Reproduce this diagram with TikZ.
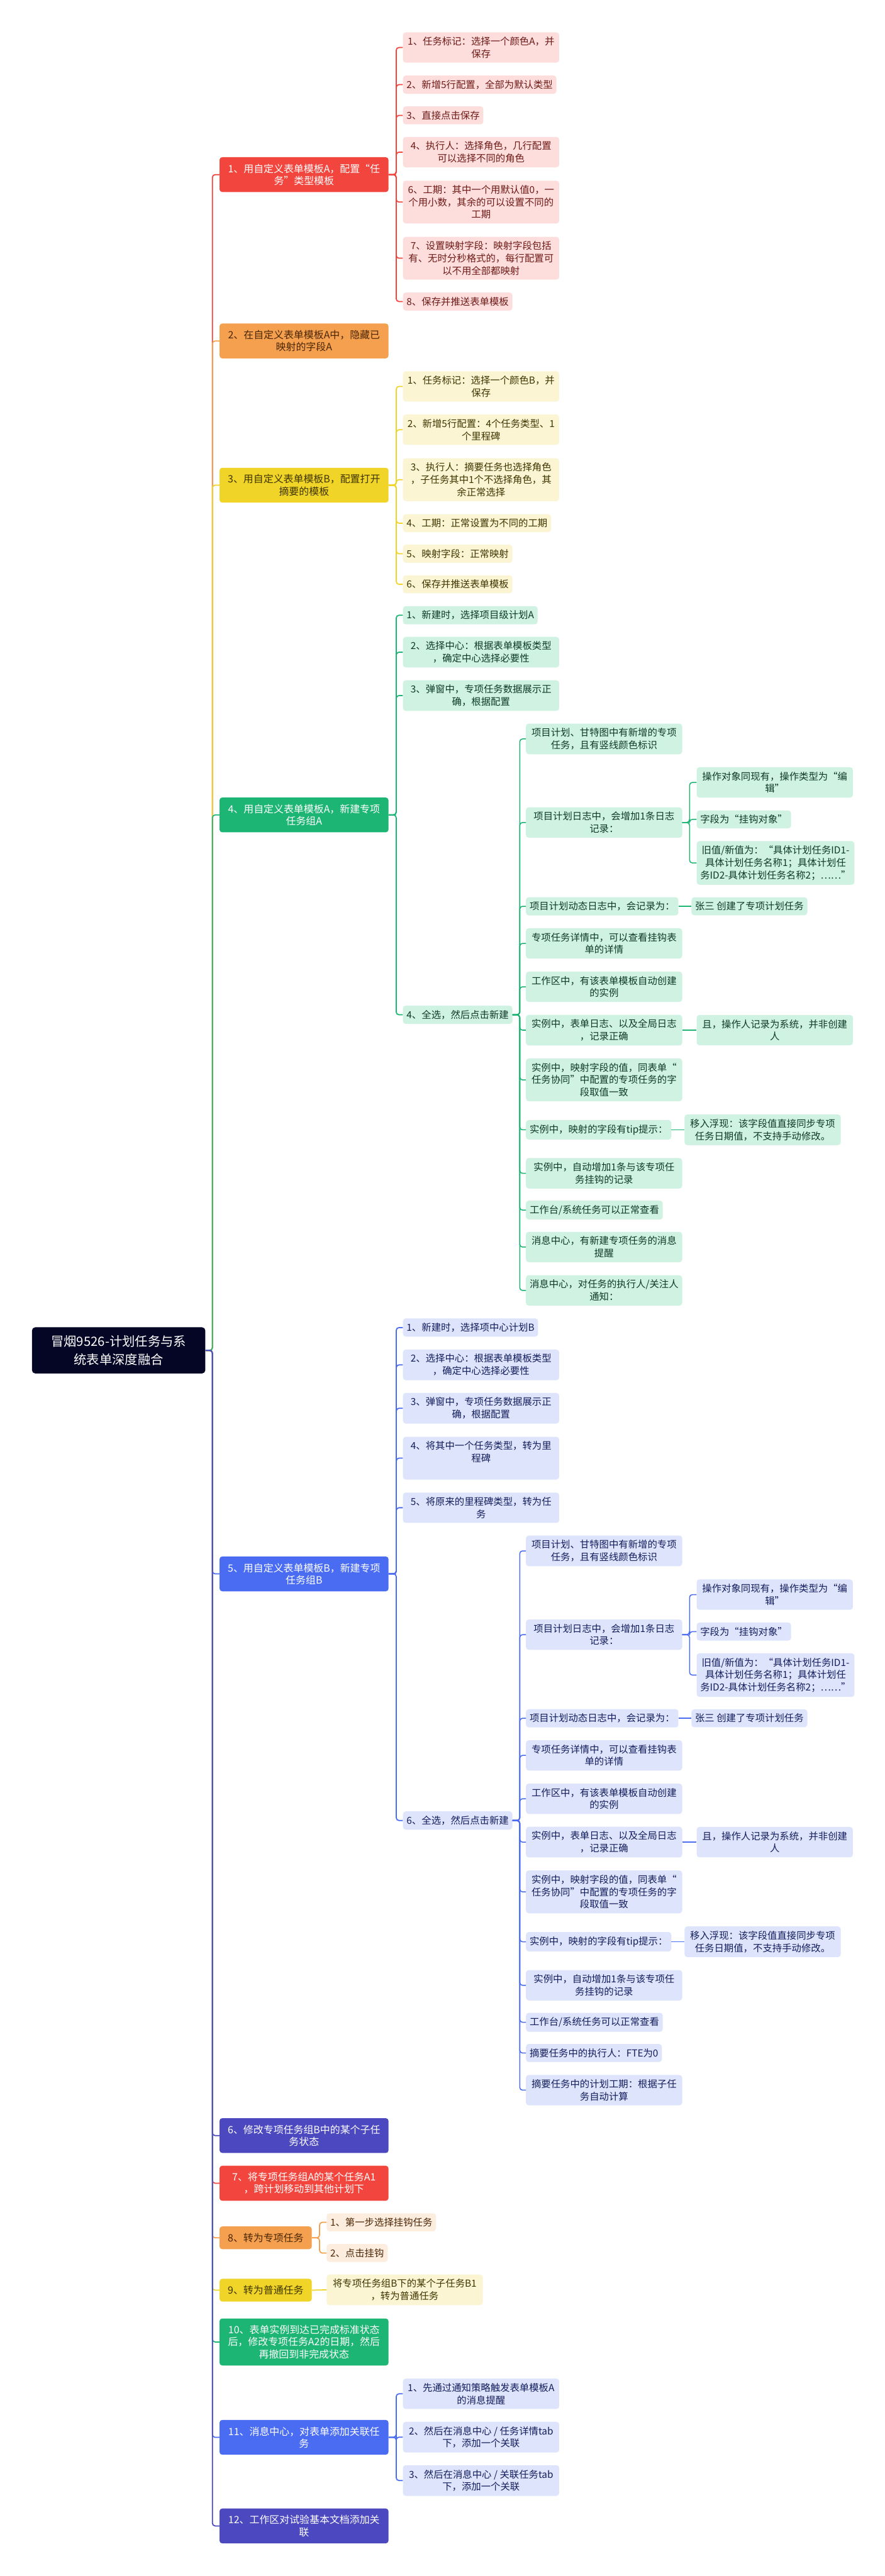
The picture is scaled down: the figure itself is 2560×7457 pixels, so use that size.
\documentclass[tikz,border=0pt]{standalone}
\usepackage{fontspec}
\setmainfont{Noto Sans CJK SC}
\usepackage{xcolor}
\definecolor{rootc}{HTML}{050526}
\definecolor{rA}{HTML}{F2453D}
\definecolor{rB}{HTML}{FDDEDD}
\definecolor{rT}{HTML}{6E1A16}
\definecolor{oA}{HTML}{F5A04E}
\definecolor{oB}{HTML}{FDEDDF}
\definecolor{oT}{HTML}{4A2606}
\definecolor{yA}{HTML}{F0D428}
\definecolor{yB}{HTML}{FBF5D4}
\definecolor{yT}{HTML}{3F3500}
\definecolor{gA}{HTML}{1DB573}
\definecolor{gB}{HTML}{CFF2E3}
\definecolor{gT}{HTML}{0E3A28}
\definecolor{bA}{HTML}{4A6CF2}
\definecolor{bB}{HTML}{DDE4FC}
\definecolor{bT}{HTML}{141E5C}
\definecolor{pA}{HTML}{4C48C0}

\begin{document}
\begin{tikzpicture}[
      x = 0.5pt, y = -0.5pt,
      font = \fontsize{14}{18}\selectfont,
      rootbox/.style={
        fill = rootc,
        text = white,
        rounded corners = 5pt,
        minimum width = 251pt,
        minimum height = 67pt,
        align = center,
        anchor = west,
        font = \fontsize{18.5}{26}\selectfont,
      },
      lone/.style={
        fill = #1A,
        text = white,
        rounded corners = 4pt,
        inner xsep = 12pt,
        inner ysep = 9.75pt,
        align = center,
        anchor = west,
        font = \fontsize{14.5}{17.5}\selectfont,
      },
      ltwo/.style={
        fill = #1B,
        text = #1T,
        rounded corners = 4pt,
        inner xsep = 5.25pt,
        inner ysep = 6.5pt,
        align = center,
        anchor = west,
      },
      onewide/.style={minimum width = 244.5pt},
      twowide/.style={minimum width = 226pt},
      link/.style={draw = #1, line width = 1.6pt, rounded corners = 4pt},
      sublink/.style={draw = #1, line width = 1.4pt, rounded corners = 4pt},
    ]
    \fill[white] (0,0) rectangle (2560,7457);
    \useasboundingbox (0,0) rectangle (2560,7457);

    % root
    \node[rootbox] (root) at (92,3909) {冒烟9526-计划任务与系\\统表单深度融合};

    % first level
    \node[lone = r, onewide] (n1) at (635,505.5) {1、用自定义表单模板A，配置“任\\务”类型模板};
    \node[lone = o, onewide, text = oT] (n2) at (635,987) {2、在自定义表单模板A中，隐藏已\\映射的字段A};
    \node[lone = y, onewide, text = yT] (n3) at (635,1404.5) {3、用自定义表单模板B，配置打开\\摘要的模板};
    \node[lone = g, onewide] (n4) at (635,2359) {4、用自定义表单模板A，新建专项\\任务组A};
    \node[lone = b, onewide] (n5) at (635,4556) {5、用自定义表单模板B，新建专项\\任务组B};
    \node[lone = p, onewide] (n6) at (635,6182) {6、修改专项任务组B中的某个子任\\务状态};
    \node[lone = r, onewide] (n7) at (635,6320) {7、将专项任务组A的某个任务A1\\，跨计划移动到其他计划下};
    \node[lone = o, text = oT] (n8) at (635,6478) {8、转为专项任务};
    \node[lone = y, text = yT] (n9) at (635,6629.5) {9、转为普通任务};
    \node[lone = g, onewide] (n10) at (635,6779.5) {10、表单实例到达已完成标准状态\\后，修改专项任务A2的日期，然后\\再撤回到非完成状态};
    \node[lone = b, onewide] (n11) at (635,7055.5) {11、消息中心，对表单添加关联任\\务};
    \node[lone = p, onewide] (n12) at (635,7312) {12、工作区对试验基本文档添加关\\联};

    \foreach \i/\c in {1/rA,2/oA,3/yA,4/gA,5/bA,6/pA,7/rA,8/oA,9/yA,10/gA,11/bA,12/pA}
      \draw[link = \c] (root.east) -- ++(10pt,0) |- (n\i.west);

    % branch 1
    \node[ltwo = r, twowide] (r1) at (1166,137.5) {1、任务标记：选择一个颜色A，并\\保存};
    \node[ltwo = r] (r2) at (1166,245) {2、新增5行配置，全部为默认类型};
    \node[ltwo = r] (r3) at (1166,334) {3、直接点击保存};
    \node[ltwo = r, twowide] (r4) at (1166,440.5) {4、执行人：选择角色，几行配置\\可以选择不同的角色};
    \node[ltwo = r, twowide] (r6) at (1166,585) {6、工期：其中一个用默认值0，一\\个用小数，其余的可以设置不同的\\工期};
    \node[ltwo = r, twowide] (r7) at (1166,747.5) {7、设置映射字段：映射字段包括\\有、无时分秒格式的，每行配置可\\以不用全部都映射};
    \node[ltwo = r] (r8) at (1166,873) {8、保存并推送表单模板};
    \foreach \c in {r1,r2,r3,r4,r6,r7,r8}
      \draw[link = rA] (n1.east) -- ++(11pt,0) |- (\c.west);

    % branch 3
    \node[ltwo = y, twowide] (y1) at (1166,1118.5) {1、任务标记：选择一个颜色B，并\\保存};
    \node[ltwo = y, twowide] (y2) at (1166,1244) {2、新增5行配置：4个任务类型、1\\个里程碑};
    \node[ltwo = y, twowide] (y3) at (1166,1388.5) {3、执行人：摘要任务也选择角色\\，子任务其中1个不选择角色，其\\余正常选择};
    \node[ltwo = y] (y4) at (1166,1514.5) {4、工期：正常设置为不同的工期};
    \node[ltwo = y] (y5) at (1166,1603) {5、映射字段：正常映射};
    \node[ltwo = y] (y6) at (1166,1691.5) {6、保存并推送表单模板};
    \foreach \c in {y1,y2,y3,y4,y5,y6}
      \draw[link = yA] (n3.east) -- ++(11pt,0) |- (\c.west);

    % branch 4
    \node[ltwo = g] (g1) at (1166,1781) {1、新建时，选择项目级计划A};
    \node[ltwo = g, twowide] (g2) at (1166,1888) {2、选择中心：根据表单模板类型\\，确定中心选择必要性};
    \node[ltwo = g, twowide] (g3) at (1166,2013.5) {3、弹窗中，专项任务数据展示正\\确，根据配置};
    \node[ltwo = g] (g4) at (1166,2937.5) {4、全选，然后点击新建};
    \foreach \c in {g1,g2,g3,g4}
      \draw[link = gA] (n4.east) -- ++(11pt,0) |- (\c.west);

    \node[ltwo = g, twowide] (ga) at (1522,2139) {项目计划、甘特图中有新增的专项\\任务，且有竖线颜色标识};
    \node[ltwo = g, twowide] (gb) at (1522,2381) {项目计划日志中，会增加1条日志\\记录：};
    \node[ltwo = g] (gc) at (1522,2623.5) {项目计划动态日志中，会记录为：};
    \node[ltwo = g, twowide] (gd) at (1522,2731) {专项任务详情中，可以查看挂钩表\\单的详情};
    \node[ltwo = g, twowide] (ge) at (1522,2856.5) {工作区中，有该表单模板自动创建\\的实例};
    \node[ltwo = g, twowide] (gf) at (1522,2982) {实例中，表单日志、以及全局日志\\，记录正确};
    \node[ltwo = g, twowide] (gg) at (1522,3126) {实例中，映射字段的值，同表单“\\任务协同”中配置的专项任务的字\\段取值一致};
    \node[ltwo = g] (gh) at (1522,3270.5) {实例中，映射的字段有tip提示：};
    \node[ltwo = g, twowide] (gi) at (1522,3396.5) {实例中，自动增加1条与该专项任\\务挂钩的记录};
    \node[ltwo = g] (gj) at (1522,3503) {工作台/系统任务可以正常查看};
    \node[ltwo = g, twowide] (gk) at (1522,3610) {消息中心，有新建专项任务的消息\\提醒};
    \node[ltwo = g, twowide] (gl) at (1522,3735.5) {消息中心，对任务的执行人/关注人\\通知：};
    \foreach \c in {ga,gb,gc,gd,ge,gf,gg,gh,gi,gj,gk,gl}
      \draw[sublink = gA] (g4.east) -- ++(10.5pt,0) |- (\c.west);

    \node[ltwo = g, twowide] (gb1) at (2016,2265) {操作对象同现有，操作类型为“编\\辑”};
    \node[ltwo = g] (gb2) at (2016,2372) {字段为“挂钩对象”};
    \node[ltwo = g, twowide] (gb3) at (2016,2498) {旧值/新值为：“具体计划任务ID1-\\具体计划任务名称1；具体计划任\\务ID2-具体计划任务名称2；……”};
    \foreach \c in {gb1,gb2,gb3}
      \draw[sublink = gA] (gb.east) -- ++(10.5pt,0) |- (\c.west);
    \node[ltwo = g] (gc1) at (2001,2623.5) {张三 创建了专项计划任务};
    \node[ltwo = g, twowide] (gf1) at (2016,2982) {且，操作人记录为系统，并非创建\\人};
    \node[ltwo = g, twowide] (gh1) at (1981,3270.5) {移入浮现：该字段值直接同步专项\\任务日期值，不支持手动修改。};
    \draw[sublink = gA] (gc.east) -- (gc1.west);
    \draw[sublink = gA] (gf.east) -- (gf1.west);
    \draw[sublink = gA] (gh.east) -- (gh1.west);

    % branch 5
    \node[ltwo = b] (b1) at (1166,3843) {1、新建时，选择项中心计划B};
    \node[ltwo = b, twowide] (b2) at (1166,3951) {2、选择中心：根据表单模板类型\\，确定中心选择必要性};
    \node[ltwo = b, twowide] (b3) at (1166,4076.5) {3、弹窗中，专项任务数据展示正\\确，根据配置};
    \node[ltwo = b, twowide] (b4) at (1166,4221) {4、将其中一个任务类型，转为里\\程碑\\\phantom{程}};
    \node[ltwo = b, twowide] (b5) at (1166,4364.5) {5、将原来的里程碑类型，转为任\\务};
    \node[ltwo = b] (b6) at (1166,5270) {6、全选，然后点击新建};
    \foreach \c in {b1,b2,b3,b4,b5,b6}
      \draw[link = bA] (n5.east) -- ++(11pt,0) |- (\c.west);

    \node[ltwo = b, twowide] (ba) at (1522,4489.5) {项目计划、甘特图中有新增的专项\\任务，且有竖线颜色标识};
    \node[ltwo = b, twowide] (bb) at (1522,4732) {项目计划日志中，会增加1条日志\\记录：};
    \node[ltwo = b] (bc) at (1522,4974) {项目计划动态日志中，会记录为：};
    \node[ltwo = b, twowide] (bd) at (1522,5081.5) {专项任务详情中，可以查看挂钩表\\单的详情};
    \node[ltwo = b, twowide] (be) at (1522,5207) {工作区中，有该表单模板自动创建\\的实例};
    \node[ltwo = b, twowide] (bf) at (1522,5332.5) {实例中，表单日志、以及全局日志\\，记录正确};
    \node[ltwo = b, twowide] (bg) at (1522,5476.5) {实例中，映射字段的值，同表单“\\任务协同”中配置的专项任务的字\\段取值一致};
    \node[ltwo = b] (bh) at (1522,5621) {实例中，映射的字段有tip提示：};
    \node[ltwo = b, twowide] (bi) at (1522,5747) {实例中，自动增加1条与该专项任\\务挂钩的记录};
    \node[ltwo = b] (bj) at (1522,5854) {工作台/系统任务可以正常查看};
    \node[ltwo = b] (bk) at (1522,5943) {摘要任务中的执行人：FTE为0};
    \node[ltwo = b, twowide] (bl) at (1522,6050.5) {摘要任务中的计划工期：根据子任\\务自动计算};
    \foreach \c in {ba,bb,bc,bd,be,bf,bg,bh,bi,bj,bk,bl}
      \draw[sublink = bA] (b6.east) -- ++(10.5pt,0) |- (\c.west);

    \node[ltwo = b, twowide] (bb1) at (2016,4616) {操作对象同现有，操作类型为“编\\辑”};
    \node[ltwo = b] (bb2) at (2016,4723) {字段为“挂钩对象”};
    \node[ltwo = b, twowide] (bb3) at (2016,4849) {旧值/新值为：“具体计划任务ID1-\\具体计划任务名称1；具体计划任\\务ID2-具体计划任务名称2；……”};
    \foreach \c in {bb1,bb2,bb3}
      \draw[sublink = bA] (bb.east) -- ++(10.5pt,0) |- (\c.west);
    \node[ltwo = b] (bc1) at (2001,4974) {张三 创建了专项计划任务};
    \node[ltwo = b, twowide] (bf1) at (2016,5332.5) {且，操作人记录为系统，并非创建\\人};
    \node[ltwo = b, twowide] (bh1) at (1981,5621) {移入浮现：该字段值直接同步专项\\任务日期值，不支持手动修改。};
    \draw[sublink = bA] (bc.east) -- (bc1.west);
    \draw[sublink = bA] (bf.east) -- (bf1.west);
    \draw[sublink = bA] (bh.east) -- (bh1.west);

    % branches 8, 9, 11
    \node[ltwo = o] (o1) at (945,6433) {1、第一步选择挂钩任务};
    \node[ltwo = o] (o2) at (945,6522) {2、点击挂钩};
    \foreach \c in {o1,o2}
      \draw[link = oA] (n8.east) -- ++(11pt,0) |- (\c.west);
    \node[ltwo = y, twowide] (y9) at (945,6628.5) {将专项任务组B下的某个子任务B1\\，转为普通任务};
    \draw[link = yA] (n9.east) -- (y9.west);
    \node[ltwo = b, twowide] (k1) at (1166,6929.5) {1、先通过通知策略触发表单模板A\\的消息提醒};
    \node[ltwo = b, twowide] (k2) at (1166,7055) {2、然后在消息中心 / 任务详情tab\\下，添加一个关联};
    \node[ltwo = b, twowide] (k3) at (1166,7180.5) {3、然后在消息中心 / 关联任务tab\\下，添加一个关联};
    \foreach \c in {k1,k2,k3}
      \draw[link = bA] (n11.east) -- ++(11pt,0) |- (\c.west);
  \end{tikzpicture}
\end{document}
